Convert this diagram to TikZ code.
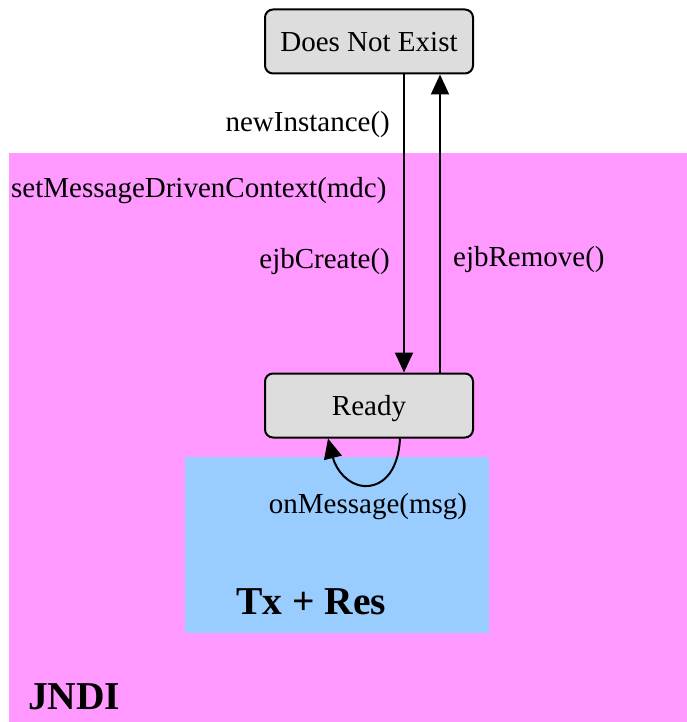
\documentclass[tikz,border=0pt]{standalone}
\usepackage{fontspec}
\setmainfont{Liberation Serif}
\usetikzlibrary{arrows.meta}
\definecolor{pinkbg}{HTML}{FF99FF}
\definecolor{bluebg}{HTML}{99CCFF}
\definecolor{stategray}{HTML}{DDDDDD}
\tikzset{
  statebox/.style={draw=black, line width=2pt, rounded corners=8pt, fill=stategray,
    minimum width=208pt, minimum height=64pt, inner sep=0pt, text height=20.5pt, text depth=0pt,
    font=\fontsize{29}{34}\selectfont},
  lbl/.style={inner sep=0pt, font=\fontsize{29}{34}\selectfont},
  big/.style={inner sep=0pt, font=\fontsize{39.5}{46}\selectfont\bfseries},
  conn/.style={line width=2pt, -{Triangle[length=20pt,width=18pt]}}
}
\begin{document}
\begin{tikzpicture}[x=1pt,y=-1pt]
\useasboundingbox (0,0) rectangle (687,722);
\fill[pinkbg] (9,153) rectangle (687,722);
\fill[bluebg] (185,457) rectangle (489,633);
\node[statebox] (dne) at (369,41.5) {Does Not Exist};
\node[statebox] (ready) at (369,405.5) {Ready};
\draw[conn] ([xshift=35pt]dne.south) -- ([xshift=35pt]ready.north);
\draw[conn] ([xshift=71pt]ready.north) -- ([xshift=71pt]dne.south);
\node[lbl, anchor=east] (l1) at (390,125) {newInstance()};
\node[lbl, anchor=west] (l2) at (11,191) {setMessageDrivenContext(mdc)};
\node[lbl, anchor=east] (l3) at (390,262) {ejbCreate()};
\node[lbl, anchor=west] (l4) at (453,260) {ejbRemove()};
\draw[conn] ([xshift=31pt]ready.south) .. controls (398,475) and (380,487) .. (364,486)
  .. controls (348,485) and (336,470) .. ([xshift=-41pt]ready.south);
\node[lbl] (l5) at (368,507) {onMessage(msg)};
\node[big, anchor=west] (tx) at (236,602) {Tx + Res};
\node[big, anchor=west] (jndi) at (28,697) {JNDI};
\end{tikzpicture}
\end{document}
